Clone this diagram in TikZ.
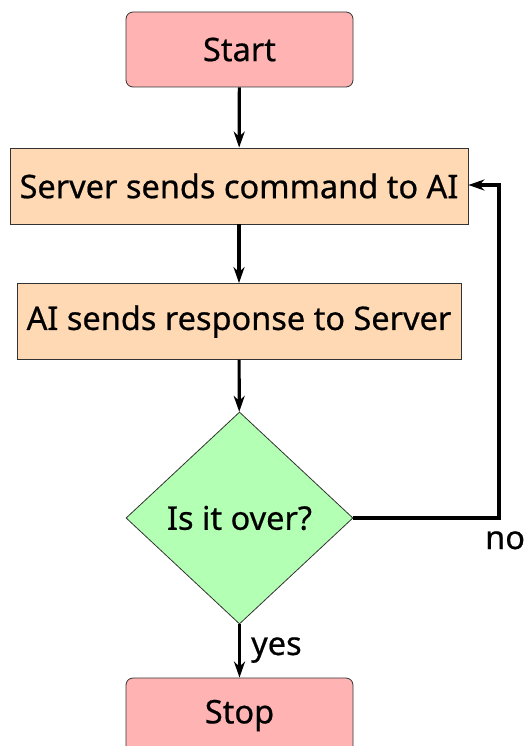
\documentclass[tikz,border=0pt]{standalone}
\usepackage{fontspec}
\setmainfont{Noto Sans}[FakeBold=0.6]
\usetikzlibrary{shapes.geometric,arrows.meta}
\definecolor{startred}{HTML}{FFB3B3}
\definecolor{procpeach}{HTML}{FFD9B3}
\definecolor{decgreen}{HTML}{B3FFB3}
\definecolor{edgegray}{HTML}{333333}
\begin{document}
\begin{tikzpicture}[x=1pt,y=-1pt,
  txt/.style={font=\fontsize{32.5}{38}\selectfont},
  terminal/.style={txt,draw=edgegray,line width=0.8pt,fill=startred,rounded corners=7pt,minimum width=227pt,minimum height=75pt,inner sep=0pt},
  process/.style={txt,draw=edgegray,line width=0.8pt,fill=procpeach,minimum height=76pt,inner sep=0pt},
  decision/.style={txt,draw=edgegray,line width=0.8pt,fill=decgreen,diamond,aspect=1.07,minimum width=227pt,minimum height=212pt,inner sep=0pt},
  flow/.style={line width=3.2pt,-{Stealth[length=16pt,width=11pt,inset=5pt]}},
  lbl/.style={txt,inner sep=0pt,anchor=base west}]
\useasboundingbox (0,0) rectangle (524,746);
\node[terminal] (start) at (239.5,49.5) {Start};
\node[process,minimum width=458pt] (send) at (239,186) {Server sends command to AI};
\node[process,minimum width=444pt] (resp) at (239,321.5) {AI sends response to Server};
\node[decision] (over) at (239.5,518) {Is it over?};
\node[terminal] (stop) at (239.5,715.5) {Stop};
\coordinate (corner1) at (499,518);
\coordinate (corner2) at (499,185);
\draw[flow] (start) -- (send);
\draw[flow] (send) -- (resp);
\draw[flow] (resp) -- (over);
\draw[flow] (over) -- (stop);
\draw[flow] (over.east) -- (corner1) -- (corner2) -- (send.east |- corner2);
\node[lbl] (no) at (485,549) {no};
\node[lbl] (yes) at (251,655) {yes};
\end{tikzpicture}
\end{document}
